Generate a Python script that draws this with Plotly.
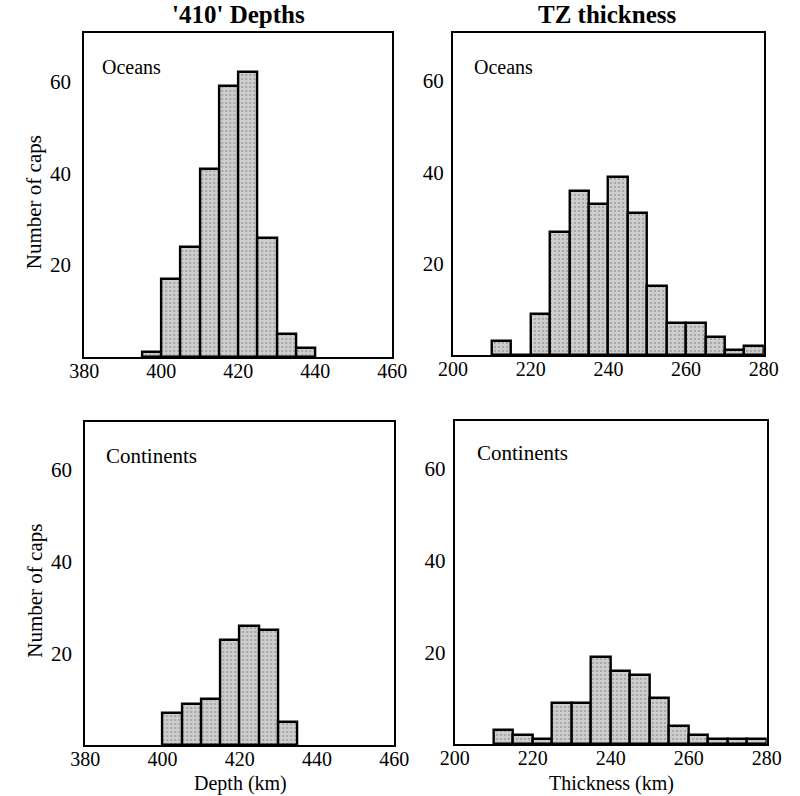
import plotly.graph_objects as go

# ---- data (bin width 5 km) ----
depth_ocean_start = 395
depth_ocean_counts = [1, 17, 24, 41, 59, 62, 26, 5, 2]
thick_ocean_start = 210
thick_ocean_counts = [3, 0, 9, 27, 36, 33, 39, 31, 15, 7, 7, 4, 1, 2]
depth_cont_start = 400
depth_cont_counts = [7, 9, 10, 23, 26, 25, 5]
thick_cont_start = 210
thick_cont_counts = [3, 2, 1, 9, 9, 19, 16, 15, 10, 4, 2, 1, 1, 1]
bin_width = 5

depth_ticks = [380, 400, 420, 440, 460]
thick_ticks = [200, 220, 240, 260, 280]
y_ticks = [20, 40, 60]

W, H = 800, 796
SERIF = "Liberation Serif, Times New Roman, serif"

# panel pixel boxes: (x0, x1, ytop, ybottom)
boxes = {
    1: (72, 392, 33, 357),
    2: (455, 778, 33, 355),
    3: (73, 394, 422, 745),
    4: (457, 781, 421, 744),
}
# label offsets inside panels (dx, dy) and font size
label_pos = {1: (16, 34, 20), 2: (20, 34, 20), 3: (19, 34, 21), 4: (21, 32, 21)}

def centers(start, n):
    return [start + bin_width * (i + 0.5) for i in range(n)]

fig = go.Figure()
panels = [
    (1, depth_ocean_start, depth_ocean_counts, depth_ticks, "Oceans"),
    (2, thick_ocean_start, thick_ocean_counts, thick_ticks, "Oceans"),
    (3, depth_cont_start, depth_cont_counts, depth_ticks, "Continents"),
    (4, thick_cont_start, thick_cont_counts, thick_ticks, "Continents"),
]

annotations = []
for idx, start, counts, ticks, label in panels:
    sfx = "" if idx == 1 else str(idx)
    x0, x1, yt, yb = boxes[idx]
    fig.add_trace(go.Bar(
        x=centers(start, len(counts)), y=counts, width=bin_width,
        xaxis="x" + sfx, yaxis="y" + sfx,
        marker=dict(color="#c8c8c8",
                    line=dict(color="black", width=2.4),
                    pattern=dict(shape=".", fgcolor="#666666", bgcolor="#cdcdcd",
                                 size=4, solidity=0.2)),
        showlegend=False, hoverinfo="x+y",
    ))
    left_panel = idx in (1, 3)
    fig.layout["xaxis" + sfx] = dict(
        domain=[x0 / W, x1 / W], anchor="y" + sfx,
        range=[ticks[0], ticks[-1]], tickvals=ticks,
        showgrid=False, zeroline=False, showline=True, mirror=True,
        linecolor="black", linewidth=2.2, ticks="",
        ticklabelstandoff=-5,
        tickfont=dict(family=SERIF, size=20, color="black"),
    )
    fig.layout["yaxis" + sfx] = dict(
        domain=[1 - yb / H, 1 - yt / H], anchor="x" + sfx,
        range=[0, 70.5], tickvals=y_ticks,
        showgrid=False, zeroline=False, showline=True, mirror=True,
        linecolor="black", linewidth=2.2, ticks="",
        ticklabelstandoff=7 if left_panel else 3,
        tickfont=dict(family=SERIF, size=21, color="black"),
    )
    dx, dy, fs = label_pos[idx]
    annotations.append(dict(
        text=label, xref="paper", yref="paper",
        x=(x0 + dx) / W, y=1 - (yt + dy) / H, xanchor="left", yanchor="middle",
        showarrow=False, font=dict(family=SERIF, size=fs, color="black"),
    ))
    if left_panel:
        annotations.append(dict(
            text="Number of caps", xref="paper", yref="paper",
            x=20 / W, y=1 - ((yt + yb) / 2 + 7) / H, xanchor="center", yanchor="middle",
            textangle=-90, showarrow=False,
            font=dict(family=SERIF, size=21, color="black"),
        ))

# column titles
annotations.append(dict(text="<b>'410' Depths</b>", xref="paper", yref="paper",
                        x=232 / W, y=1 - 15 / H, xanchor="center", yanchor="middle",
                        showarrow=False, font=dict(family=SERIF, size=25, color="black")))
annotations.append(dict(text="<b>TZ thickness</b>", xref="paper", yref="paper",
                        x=616 / W, y=1 - 15 / H, xanchor="center", yanchor="middle",
                        showarrow=False, font=dict(family=SERIF, size=25, color="black")))
# x-axis titles
annotations.append(dict(text="Depth (km)", xref="paper", yref="paper",
                        x=234 / W, y=0, xanchor="center", yanchor="bottom",
                        borderpad=0,
                        showarrow=False, font=dict(family=SERIF, size=20, color="black")))
annotations.append(dict(text="Thickness (km)", xref="paper", yref="paper",
                        x=620 / W, y=0, xanchor="center", yanchor="bottom",
                        borderpad=0,
                        showarrow=False, font=dict(family=SERIF, size=20, color="black")))

fig.update_layout(
    width=W, height=H,
    margin=dict(l=0, r=0, t=0, b=0),
    paper_bgcolor="white", plot_bgcolor="white",
    bargap=0, annotations=annotations,
)

fig.write_html("out.html")
